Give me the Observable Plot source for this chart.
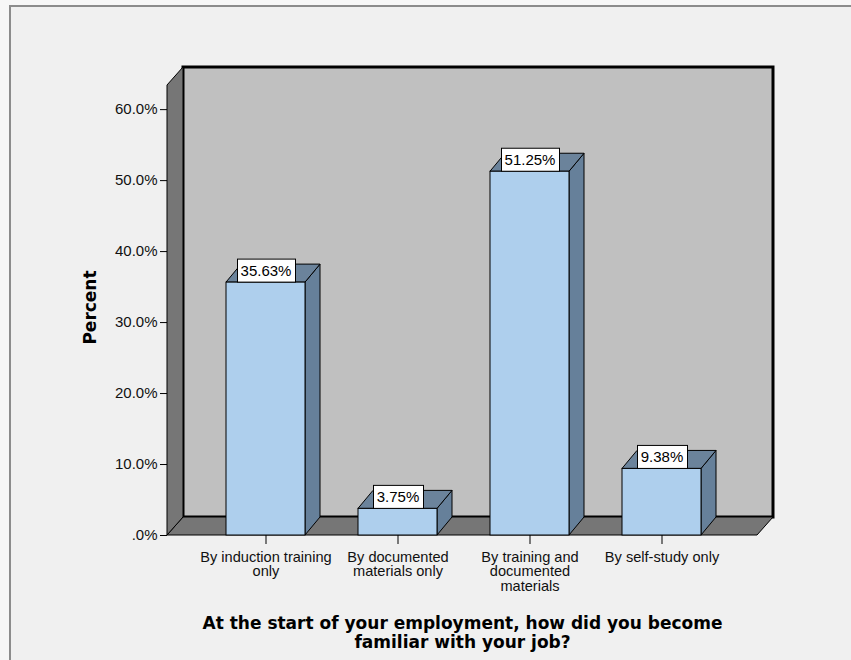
<!DOCTYPE html>
<html><head><meta charset="utf-8">
<script src="https://cdn.jsdelivr.net/npm/d3@7"></script>
<script src="https://cdn.jsdelivr.net/npm/@observablehq/plot@0.6"></script>
<style>
html,body{margin:0;padding:0;background:#f7f7f7;overflow:hidden}
#wrap{position:relative;width:851px;height:660px;overflow:hidden}
#border{position:absolute;left:9px;top:5px;width:1000px;height:1000px;border:2px solid #8c8c8c;background:#f0f0f0}
#chart{position:absolute;left:0;top:0}
</style></head><body>
<div id="wrap"><div id="border"></div><div id="chart"></div></div>
<script>
const categories = ["By induction training only","By documented materials only","By training and documented materials","By self-study only"];
const categoryLabels = ["By induction training\nonly","By documented\nmaterials only","By training and\ndocumented\nmaterials","By self-study only"];
const percents = [35.63, 3.75, 51.25, 9.38];
const valueLabels = ["35.63%","3.75%","51.25%","9.38%"];
const yTicks = [0,10,20,30,40,50,60];
const yTickLabels = [".0%","10.0%","20.0%","30.0%","40.0%","50.0%","60.0%"];
const xTitle = "At the start of your employment, how did you become\nfamiliar with your job?";
const yTitle = "Percent";
const yMax = 63.4;

const data = categories.map((c,i)=>({cat:c, label:categoryLabels[i], pct:percents[i], text:valueLabels[i]}));

const WALL_DX=16, WALL_DY=-18, BAR_DX=15, BAR_DY=-18;
const svgNS = "http://www.w3.org/2000/svg";
function el(tag, attrs){ const e=document.createElementNS(svgNS, tag); for(const k in attrs) e.setAttribute(k, attrs[k]); return e; }
function poly(pts, fill, stroke, sw){ return el("polygon",{points: pts.map(p=>p.join(",")).join(" "), fill, stroke, "stroke-width": sw, "stroke-linejoin":"miter"}); }
function bandwidthOf(s){ return typeof s.bandwidth === "function" ? s.bandwidth() : s.bandwidth; }

function walls(index, scales, values, dims){
  const g = el("g",{});
  const x0 = dims.marginLeft, x1 = dims.width - dims.marginRight;
  const yb = scales.y(0), yt = scales.y(yMax);
  g.appendChild(el("rect",{x:x0+WALL_DX, y:yt+WALL_DY, width:x1-x0, height:yb-yt, fill:"#c0c0c0", stroke:"#000","stroke-width":3}));
  g.appendChild(poly([[x0,yb],[x1,yb],[x1+WALL_DX,yb+WALL_DY],[x0+WALL_DX,yb+WALL_DY]],"#767676","#000",1));
  g.appendChild(poly([[x0,yb],[x0,yt],[x0+WALL_DX,yt+WALL_DY],[x0+WALL_DX,yb+WALL_DY]],"#767676","#000",1));
  return g;
}
function bars3d(index, scales){
  const g = el("g",{});
  const bw = bandwidthOf(scales.x);
  for (const d of data){
    const xa = scales.x(d.cat), xb = xa + bw, yt = scales.y(d.pct), yb = scales.y(0);
    g.appendChild(poly([[xb,yb],[xb,yt],[xb+BAR_DX,yt+BAR_DY],[xb+BAR_DX,yb+BAR_DY]],"#66809a","#000",1));
    g.appendChild(poly([[xa,yt],[xb,yt],[xb+BAR_DX,yt+BAR_DY],[xa+BAR_DX,yt+BAR_DY]],"#6b839b","#000",1));
  }
  return g;
}
function valueBoxes(index, scales){
  const g = el("g",{});
  const bw = bandwidthOf(scales.x);
  const ctx = document.createElement("canvas").getContext("2d");
  ctx.font = "15px 'Liberation Sans', Arial, sans-serif";
  for (const d of data){
    const cx = scales.x(d.cat)+bw/2, yt = scales.y(d.pct);
    const w = Math.round(ctx.measureText(d.text).width + 7);
    g.appendChild(el("rect",{x:Math.round(cx-w/2)+0.5, y:yt-23, width:w, height:23, fill:"#fff", stroke:"#000", "stroke-width":1}));
  }
  return g;
}

const chart = Plot.plot({
  width: 851, height: 660,
  marginLeft: 167, marginRight: 94, marginTop: 85, marginBottom: 125,
  style: {fontFamily:"'Liberation Sans', Arial, sans-serif", fontSize:"15px", background:"transparent", overflow:"visible", color:"#000"},
  x: {type:"band", domain: categories, range:[171,756], padding:0.4, label:null},
  y: {domain:[0,yMax], label:null},
  marks: [
    walls,
    Plot.axisY(yTicks, {tickFormat: d => yTickLabels[yTicks.indexOf(d)], tickSize:7, tickPadding:3, fontSize:15, label:null, fill:"#111"}),
    Plot.axisX({tickFormat: d => categoryLabels[categories.indexOf(d)], tickSize:9, tickPadding:7, fontSize:14.6, lineHeight:0.99, label:null, fill:"#111"}),
    bars3d,
    Plot.barY(data, {x:"cat", y:"pct", fill:"#aecfed", stroke:"#000", strokeWidth:1}),
    valueBoxes,
    Plot.text(data, {x:"cat", y:"pct", text:"text", dy:-11.5, fontSize:15, fill:"#000"}),
    Plot.text([xTitle], {frameAnchor:"bottom", dy:96.5, lineAnchor:"middle", lineHeight:1.12, fontSize:17, fontWeight:"bold", fontFamily:"'DejaVu Sans', sans-serif", fill:"#000"}),
    Plot.text([yTitle], {frameAnchor:"left", textAnchor:"middle", dx:-77, dy:-3, rotate:-90, fontSize:17, fontWeight:"bold", fontFamily:"'DejaVu Sans', sans-serif", fill:"#000"})
  ]
});
document.getElementById("chart").appendChild(chart);
</script>
</body></html>
